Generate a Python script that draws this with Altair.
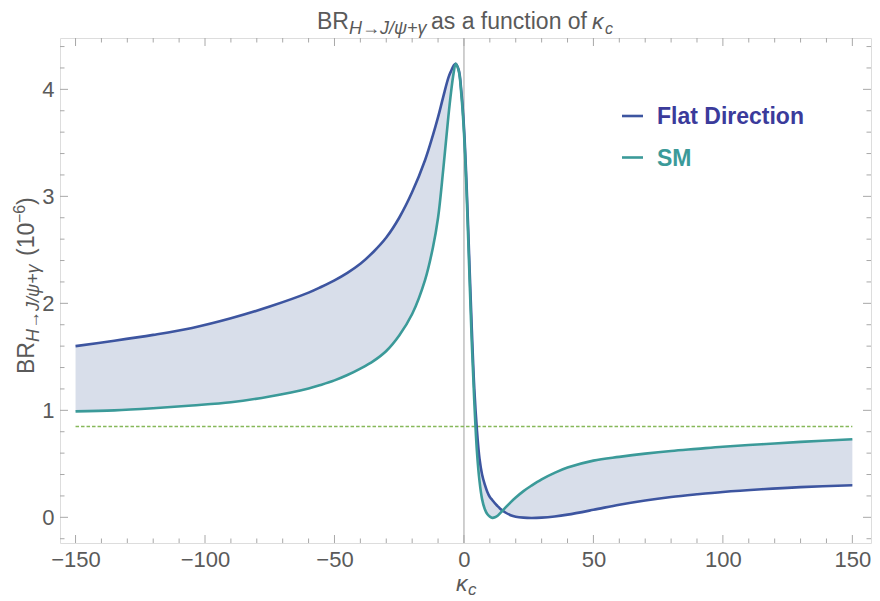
import altair as alt
import pandas as pd

# ---------------- data ----------------
kappa = [-150, -135, -120, -105, -90, -75, -60, -55, -50, -45,
         -40, -35, -30, -25, -20, -15, -12, -10, -8, -6,
         -5, -4, -3.2, -2, -1, 0, 1, 2, 3, 4,
         5, 6, 7, 8, 9, 10, 11, 12, 13, 14,
         16, 18, 20, 23, 26, 30, 35, 40, 50, 60,
         70, 80, 90, 100, 115, 130, 150]
br_flat = [1.60, 1.65, 1.705, 1.77, 1.86, 1.97, 2.10, 2.155, 2.215, 2.285,
           2.37, 2.48, 2.615, 2.80, 3.04, 3.34, 3.57, 3.74, 3.93, 4.11,
           4.17, 4.22, 4.24, 4.18, 3.98, 3.65, 3.12, 2.45, 1.78, 1.20,
           0.82, 0.55, 0.40, 0.31, 0.24, 0.19, 0.16, 0.13, 0.105, 0.08,
           0.045, 0.02, 0.006, -0.003, -0.006, -0.003, 0.008, 0.025, 0.07, 0.118,
           0.158, 0.19, 0.215, 0.237, 0.262, 0.282, 0.30]
br_sm = [0.99, 1.00, 1.02, 1.045, 1.075, 1.13, 1.205, 1.24, 1.28, 1.33,
         1.39, 1.46, 1.555, 1.70, 1.90, 2.22, 2.52, 2.80, 3.25, 3.75,
         3.97, 4.15, 4.24, 4.17, 3.95, 3.60, 3.05, 2.35, 1.65, 1.08,
         0.62, 0.34, 0.17, 0.08, 0.03, 0.006, -0.005, 0.0, 0.015, 0.04,
         0.09, 0.14, 0.185, 0.245, 0.295, 0.355, 0.415, 0.465, 0.53, 0.565,
         0.595, 0.62, 0.64, 0.66, 0.683, 0.705, 0.73]
series_names = ["Flat Direction", "SM"]
reference_level = 0.85

x_major = [-150, -100, -50, 0, 50, 100, 150]
x_minor = [-140, -130, -120, -110, -90, -80, -70, -60, -40, -30, -20, -10,
           10, 20, 30, 40, 60, 70, 80, 90, 110, 120, 130, 140]
y_major = [0, 1, 2, 3, 4]
y_minor = [-0.2, 0.2, 0.4, 0.6, 0.8, 1.2, 1.4, 1.6, 1.8, 2.2, 2.4, 2.6, 2.8,
           3.2, 3.4, 3.6, 3.8, 4.2, 4.4]

# ---------------- styling ----------------
FONT = "Liberation Sans"
W, H = 811, 505
XDOM = [-156.0, 157.2]
YDOM = [-0.24, 4.48]
FLAT_C = "#3d55a0"
SM_C = "#3b9a99"
FILL_C = "#d8deea"
DASH_C = "#86b85a"
FRAME_C = "#a8a8a8"
TXT_C = "#5a5a5a"
INTERP = "catmull-rom"

xs = alt.Scale(domain=XDOM, nice=False, zero=False)
ys = alt.Scale(domain=YDOM, nice=False, zero=False)

wide = pd.DataFrame({"kappa": kappa, "flat": br_flat, "sm": br_sm})

x_axis = alt.Axis(values=x_major, title=None, ticks=False, domain=False, grid=False,
                  labelFontSize=22, labelFont=FONT, labelColor=TXT_C, labelPadding=6,
                  labelFlush=False)
y_axis = alt.Axis(values=y_major, title=None, ticks=False, domain=False, grid=False,
                  labelFontSize=22, labelFont=FONT, labelColor=TXT_C, labelPadding=6)


def X(field):
    return alt.X(field, scale=xs, axis=x_axis)


def Y(field):
    return alt.Y(field, scale=ys, axis=y_axis)


area = alt.Chart(wide).mark_area(color=FILL_C, opacity=1, interpolate=INTERP).encode(
    x=X("kappa:Q"), y=Y("flat:Q"), y2="sm:Q",
)

vline = alt.Chart(alt.Data(values=[{"kappa": 0}])).mark_rule(color="#c4c4c4", strokeWidth=1.6).encode(
    x=X("kappa:Q"), y=alt.value(0), y2=alt.value(H)
)

dash_df = pd.DataFrame({"kappa": [kappa[0], kappa[-1]], "flat": [reference_level, reference_level]})
dashed = alt.Chart(dash_df).mark_line(color=DASH_C, strokeDash=[3.5, 2], strokeWidth=1.5).encode(
    x=X("kappa:Q"), y=Y("flat:Q")
)

line_flat = alt.Chart(wide).mark_line(color=FLAT_C, strokeWidth=2.6, interpolate=INTERP).encode(
    x=X("kappa:Q"), y=Y("flat:Q")
)
line_sm = alt.Chart(wide).mark_line(color=SM_C, strokeWidth=2.6, interpolate=INTERP).encode(
    x=X("kappa:Q"), y=Y("sm:Q")
)


def xticks(vals, length, top):
    y0, y1 = (0, length) if top else (H - length, H)
    return alt.Chart(pd.DataFrame({"kappa": vals})).mark_rule(color=FRAME_C, strokeWidth=1).encode(
        x=X("kappa:Q"), y=alt.value(y0), y2=alt.value(y1)
    )


def yticks(vals, length, right):
    x0, x1 = (W - length, W) if right else (0, length)
    return alt.Chart(pd.DataFrame({"flat": vals})).mark_rule(color=FRAME_C, strokeWidth=1).encode(
        y=Y("flat:Q"), x=alt.value(x0), x2=alt.value(x1)
    )


ticks = [xticks(x_major, 8, False), xticks(x_minor, 4.5, False),
         xticks(x_major, 8, True), xticks(x_minor, 4.5, True),
         yticks(y_major, 8, False), yticks(y_minor, 4.5, False),
         yticks(y_major, 8, True), yticks(y_minor, 4.5, True)]


def txt(s, x, y, size, italic=False, bold=False, angle=0, color=TXT_C):
    return alt.Chart(alt.Data(values=[{}])).mark_text(
        text=s, font=FONT, fontSize=size, fontStyle="italic" if italic else "normal",
        fontWeight="bold" if bold else "normal", angle=angle, align="left",
        baseline="alphabetic", color=color,
    ).encode(x=alt.value(x), y=alt.value(y))


# title: BR_{H→J/ψ+γ} as a function of κ_c
title_parts = [
    txt("BR", 257, -9, 23),
    txt("H→J/ψ+γ", 289, -4.5, 18, italic=True),
    txt("as a function of", 371, -9, 23),
    txt("κ", 532, -9, 23, italic=True),
    txt("c", 545, -4.5, 16, italic=True),
]

# y title (rotated): BR_{H→J/ψ+γ} (10^-6)
ytitle_parts = [
    txt("BR", -26, 336, 23, angle=270),
    txt("H→J/ψ+γ", -21, 304, 18, italic=True, angle=270),
    txt("(10", -26, 218, 23, angle=270),
    txt("−6", -35, 185, 16, angle=270),
    txt(")", -26, 167, 23, angle=270),
]

# x title: κ_c
xtitle_parts = [
    txt("κ", 396, 553, 23, italic=True),
    txt("c", 408, 557, 17, italic=True),
]

# legend
legend_parts = []
for name, lc, tc, yy in [(series_names[0], FLAT_C, "#3b3b9b", 78),
                          (series_names[1], SM_C, "#3b9a99", 119.5)]:
    legend_parts.append(
        alt.Chart(alt.Data(values=[{}])).mark_rule(color=lc, strokeWidth=2.6).encode(
            x=alt.value(562), x2=alt.value(583), y=alt.value(yy)
        )
    )
    legend_parts.append(txt(name, 597, yy + 8.3, 23, bold=True, color=tc))

chart = alt.layer(
    area, vline, dashed, line_flat, line_sm, *ticks,
    *title_parts, *ytitle_parts, *xtitle_parts, *legend_parts
).properties(
    width=W, height=H,
    autosize=alt.AutoSizeParams(type="none"),
    padding={"left": 52, "top": 30, "right": 1, "bottom": 56},
).configure_view(stroke=FRAME_C, strokeWidth=1).configure(background="white")

chart.save("out.html", embed_options={"renderer": "svg", "actions": False})
